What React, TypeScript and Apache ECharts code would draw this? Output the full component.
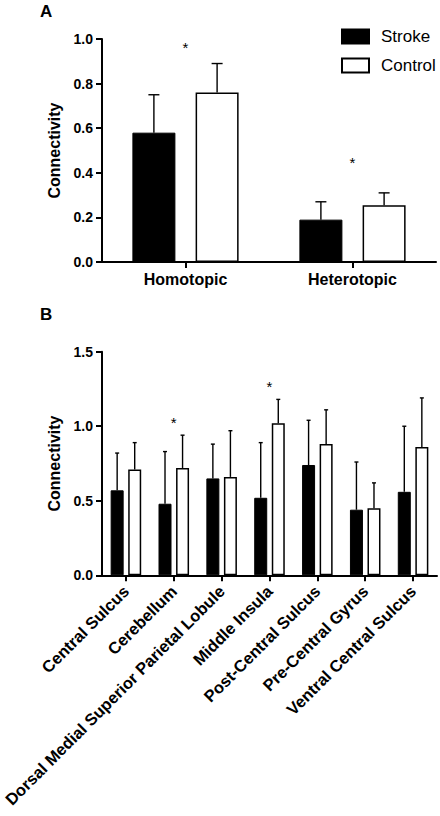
import React, { useEffect, useRef } from "react";
import * as echarts from "echarts";

const FONT = '"Liberation Sans", Arial, Helvetica, sans-serif';

// Panel A
const categoriesA = ["Homotopic", "Heterotopic"];
const strokeA = [0.58, 0.19];
const strokeTopA = [0.75, 0.27];
const controlA = [0.76, 0.255];
const controlTopA = [0.89, 0.31];
const starA = [0.964, 0.444];
const yTicksA = { min: 0, max: 1.0, interval: 0.2 };

// Panel B
const categoriesB = [
  "Central Sulcus",
  "Cerebellum",
  "Dorsal Medial Superior Parietal Lobule",
  "Middle Insula",
  "Post-Central Sulcus",
  "Pre-Central Gyrus",
  "Ventral Central Sulcus",
];
const strokeB = [0.57, 0.48, 0.65, 0.52, 0.74, 0.44, 0.56];
const strokeTopB = [0.82, 0.83, 0.88, 0.89, 1.04, 0.76, 1.0];
const controlB = [0.71, 0.72, 0.66, 1.02, 0.88, 0.45, 0.86];
const controlTopB = [0.89, 0.94, 0.97, 1.18, 1.11, 0.62, 1.19];
const starB: (number | null)[] = [null, 1.023, null, 1.268, null, null, null];
const yTicksB = { min: 0, max: 1.5, interval: 0.5 };

const BAR_A = 43;
const GAP_A = 0.47;
const BAR_B = 13;
const GAP_B = 0.35;

function errSeries(
  xi: number,
  values: number[],
  tops: number[],
  sign: number,
  barW: number,
  gap: number,
  capW: number
) {
  return {
    type: "custom",
    xAxisIndex: xi,
    yAxisIndex: xi,
    z: 5,
    silent: true,
    data: values.map((v, i) => [i, tops[i], v]),
    renderItem: (_p: any, api: any) => {
      const i = api.value(0);
      const top = api.coord([i, api.value(1)]);
      const base = api.coord([i, api.value(2)]);
      const x = top[0] + (sign * (barW + barW * gap)) / 2;
      return {
        type: "group",
        children: [
          {
            type: "line",
            shape: { x1: x, y1: base[1], x2: x, y2: top[1] },
            style: { stroke: "#000", lineWidth: 1.4 },
          },
          {
            type: "line",
            shape: { x1: x - capW / 2, y1: top[1], x2: x + capW / 2, y2: top[1] },
            style: { stroke: "#000", lineWidth: 1.4 },
          },
        ],
      };
    },
  };
}

function starSeries(xi: number, stars: (number | null)[]) {
  return {
    type: "custom",
    xAxisIndex: xi,
    yAxisIndex: xi,
    z: 6,
    silent: true,
    data: stars
      .map((v, i) => (v == null ? null : [i, v]))
      .filter((d) => d != null),
    renderItem: (_p: any, api: any) => {
      const pt = api.coord([api.value(0), api.value(1)]);
      return {
        type: "text",
        x: pt[0],
        y: pt[1],
        style: {
          text: "*",
          fontSize: 15,
          fontFamily: FONT,
          fill: "#000",
          align: "center",
          verticalAlign: "middle",
        },
      };
    },
  };
}

function xAxisBase(gridIndex: number, data: string[]) {
  return {
    type: "category",
    gridIndex,
    data,
    axisLine: { show: true, lineStyle: { color: "#000", width: 2 } },
    axisTick: { show: true, alignWithLabel: true, length: 6, lineStyle: { color: "#000", width: 2 } },
    splitLine: { show: false },
  };
}

function yAxisBase(gridIndex: number, t: { min: number; max: number; interval: number }) {
  return {
    type: "value",
    gridIndex,
    min: t.min,
    max: t.max,
    interval: t.interval,
    name: "Connectivity",
    nameLocation: "middle",
    nameGap: 38,
    nameTextStyle: { fontFamily: FONT, fontWeight: "bold", fontSize: 16, color: "#000" },
    axisLine: { show: true, lineStyle: { color: "#000", width: 2 } },
    axisTick: { show: true, length: 6, lineStyle: { color: "#000", width: 2 } },
    splitLine: { show: false },
    axisLabel: {
      fontFamily: FONT,
      fontWeight: "bold",
      fontSize: 14,
      color: "#000",
      margin: 9,
      formatter: (v: number) => v.toFixed(1),
    },
  };
}

export default function App() {
  const ref = useRef<HTMLDivElement>(null);
  useEffect(() => {
    if (!ref.current) return;
    const chart = echarts.init(ref.current, undefined, { renderer: "svg" });
    chart.setOption({
      animation: false,
      backgroundColor: "#fff",
      grid: [
        { left: 102, right: 4, top: 39, height: 223, outerBoundsMode: "none", containLabel: false },
        { left: 102, right: 3, top: 351.7, height: 223.6, outerBoundsMode: "none", containLabel: false },
      ],
      legend: {
        data: ["Stroke", "Control"],
        orient: "vertical",
        left: 341,
        top: 28,
        padding: 0,
        itemWidth: 27,
        itemHeight: 14,
        itemGap: 12,
        icon: "rect",
        selectedMode: false,
        textStyle: { fontFamily: FONT, fontSize: 17, color: "#000", lineHeight: 14, padding: [0, 0, 0, 7] },
      },
      graphic: [
        { type: "text", left: 40, top: 3, style: { text: "A", fontFamily: FONT, fontWeight: "bold", fontSize: 17, fill: "#000" } },
        { type: "text", left: 40, top: 306, style: { text: "B", fontFamily: FONT, fontWeight: "bold", fontSize: 17, fill: "#000" } },
      ],
      xAxis: [
        {
          ...xAxisBase(0, categoriesA),
          axisLabel: { fontFamily: FONT, fontWeight: "bold", fontSize: 16, color: "#000", margin: 9 },
        },
        {
          ...xAxisBase(1, categoriesB),
          axisLabel: {
            fontFamily: FONT,
            fontWeight: "bold",
            fontSize: 16.5,
            color: "#000",
            rotate: 45,
            interval: 0,
            margin: 13,
            hideOverlap: false,
          },
        },
      ],
      yAxis: [yAxisBase(0, yTicksA), yAxisBase(1, yTicksB)],
      series: [
        {
          name: "Stroke",
          type: "bar",
          xAxisIndex: 0,
          yAxisIndex: 0,
          data: strokeA,
          barWidth: BAR_A,
          barGap: GAP_A * 100 + "%",
          itemStyle: { color: "#000", borderColor: "#000", borderWidth: 1 },
        },
        {
          name: "Control",
          type: "bar",
          xAxisIndex: 0,
          yAxisIndex: 0,
          data: controlA,
          barWidth: BAR_A,
          barGap: GAP_A * 100 + "%",
          itemStyle: { color: "#fff", borderColor: "#000", borderWidth: 1.5 },
        },
        {
          name: "Stroke",
          type: "bar",
          xAxisIndex: 1,
          yAxisIndex: 1,
          data: strokeB,
          barWidth: BAR_B,
          barGap: GAP_B * 100 + "%",
          itemStyle: { color: "#000", borderColor: "#000", borderWidth: 1 },
        },
        {
          name: "Control",
          type: "bar",
          xAxisIndex: 1,
          yAxisIndex: 1,
          data: controlB,
          barWidth: BAR_B,
          barGap: GAP_B * 100 + "%",
          itemStyle: { color: "#fff", borderColor: "#000", borderWidth: 1.5 },
        },
        errSeries(0, strokeA, strokeTopA, -1, BAR_A, GAP_A, 11),
        errSeries(0, controlA, controlTopA, 1, BAR_A, GAP_A, 11),
        errSeries(1, strokeB, strokeTopB, -1, BAR_B, GAP_B, 4),
        errSeries(1, controlB, controlTopB, 1, BAR_B, GAP_B, 4),
        starSeries(0, starA),
        starSeries(1, starB),
      ],
    });
    return () => chart.dispose();
  }, []);
  return (
    <div
      ref={ref}
      style={{ position: "absolute", left: 0, top: 0, width: 440, height: 816, background: "#fff" }}
    />
  );
}
